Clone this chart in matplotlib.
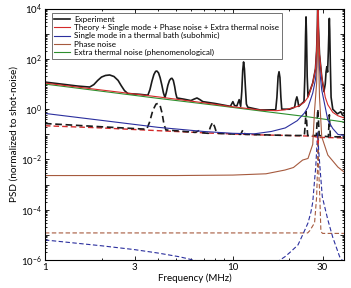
import matplotlib
matplotlib.use("Agg")
import matplotlib.pyplot as plt
from matplotlib.ticker import FixedLocator, NullFormatter, LogLocator

plt.rcParams['font.family'] = ['Lato', 'DejaVu Sans']
plt.rcParams['mathtext.default'] = 'regular'

# ---------------- data ----------------
green_f = [1, 2, 4, 8, 15, 25, 39]
green_v = [10, 5.2, 2.7, 1.45, 0.8, 0.5, 0.31]

red_f = [1, 2, 4, 7, 10, 14, 17, 19, 22.2, 24, 25.1, 26.6, 27.5, 27.9, 28.15, 28.3,
         28.5, 28.9, 29.7, 31, 32, 34, 36.2, 39]
red_v = [11, 5.8, 3.1, 1.8, 1.25, 0.93, 0.87, 0.95, 1.3, 1.9, 3.0, 11, 40, 220, 2000, 3e4,
         2000, 150, 19, 3, 1.5, 0.75, 0.55, 0.45]

blue_f = [1, 2, 4, 7, 10, 13, 16, 19, 22, 24, 25.1, 26.6, 27.5, 27.9, 28.15, 28.3,
          28.5, 28.9, 29.7, 31, 32, 34, 36.2, 39]
blue_v = [0.68, 0.36, 0.19, 0.13, 0.11, 0.105, 0.13, 0.18, 0.35, 0.7, 1.2, 4.4, 15, 48, 400, 3e4,
          400, 40, 5.8, 1.2, 0.37, 0.17, 0.1, 0.09]

brown_f = [1, 5, 10, 15, 18.9, 21, 23.5, 25.1, 26.6, 27.2, 27.9, 28.15, 28.3, 28.5, 28.9,
           29.7, 32, 36.2, 39]
brown_v = [0.0023, 0.0023, 0.0024, 0.0027, 0.0038, 0.0048, 0.0095, 0.011, 0.04, 0.9, 11, 300, 3e4,
           300, 3, 0.08, 0.015, 0.005, 0.0032]

exp_f = [1, 1.5, 1.73, 1.82, 1.91, 2.0, 2.1, 2.21, 2.33, 2.45, 2.55, 2.65, 2.76,
         3.2, 3.53, 3.62, 3.71, 3.8, 3.88, 3.94, 4.02, 4.1, 4.19, 4.27, 4.35,
         4.42, 4.51, 4.6, 4.68, 4.74, 4.82, 4.9, 4.97, 5.04,
         5.5, 5.98, 6.2, 6.44, 6.68, 6.92, 8, 9.7, 10.0, 10.2, 10.5, 10.8,
         11.0, 11.15, 11.28, 11.4, 11.52, 11.65, 11.8, 12.0,
         14, 16.9, 17.15, 17.4, 17.6, 17.8, 18.0, 18.2,
         20, 21.3, 21.6, 21.9, 22.15, 22.4,
         23.9, 24.15, 24.35, 24.5, 24.65, 24.85, 25.1,
         26.6, 27.5, 27.9, 28.15, 28.3, 28.5, 28.9, 29.7,
         30.5, 31.0, 31.3, 31.6, 31.9, 32.2, 32.45, 32.6, 32.75, 33.0, 33.3,
         34, 36, 37.5, 38.2, 39]
exp_v = [12, 8.3, 7.6, 9.5, 14, 19, 22, 23, 20, 14, 8.5, 5.5, 4.2,
         3.9, 3.6, 6, 13, 24, 32, 33, 28, 18, 9, 4.5, 2.9,
         4.5, 9, 14, 16.5, 17, 14, 8, 4.2, 2.8,
         2.5, 2.2, 2.5, 2.8, 2.4, 2.0, 1.7, 1.3, 2.0, 1.4, 1.35, 2.4,
         1.3, 5, 35, 76, 40, 8, 1.6, 1.2,
         0.93, 0.95, 3, 20, 31, 18, 3, 1.0,
         1.0, 1.2, 2.2, 3.1, 2.2, 1.3,
         2.0, 20, 800, 4700, 800, 20, 3.2,
         11, 40, 220, 2000, 3e4, 2000, 150, 19,
         5, 10, 30, 49, 30, 200, 1500, 4100, 1500, 60, 3,
         1.0, 0.65, 0.8, 0.6, 0.55]

red_d_f = [1, 2, 4, 8, 14, 20, 26, 27.8, 28.3, 28.8, 31, 39]
red_d_v = [0.22, 0.18, 0.14, 0.11, 0.095, 0.09, 0.085, 0.08, 0.045, 0.075, 0.075, 0.072]

exp_d_f = [1, 2, 3.48, 3.6, 3.75, 3.9, 4.0, 4.1, 4.2, 4.3, 4.4, 6.3, 6.6, 6.9,
           7.4, 7.6, 7.8, 8.0, 8.2, 11.0, 11.3, 11.6,
           20, 24.0, 24.3, 24.5, 24.7, 25.0, 27.8, 28.1, 28.3, 28.5, 28.8,
           32.2, 32.45, 32.6, 32.75, 33.0, 39]
exp_d_v = [0.27, 0.2, 0.16, 0.3, 0.9, 1.6, 1.7, 1.4, 0.7, 0.25, 0.15, 0.12, 0.14, 0.115,
           0.11, 0.2, 0.3, 0.2, 0.11, 0.1, 0.15, 0.1,
           0.09, 0.09, 0.3, 0.8, 0.3, 0.09, 0.09, 0.4, 1.0, 0.4, 0.09,
           0.08, 0.25, 0.6, 0.25, 0.08, 0.08]

blue_d_f = [1, 2, 3, 4, 5.2, 7, 10, 14, 17, 18.9, 20.1, 22.2, 23.5, 25.1, 26.0, 26.6, 27.2,
            27.6, 27.9, 28.3, 28.6, 29.0, 29.9, 32, 34, 37, 39]
blue_d_v = [6.3e-6, 3.7e-6, 2.6e-6, 1.9e-6, 1.35e-6, 8e-7, 5e-7, 5e-7, 8e-7, 1.35e-6, 2.0e-6, 4e-6,
            1e-5, 3e-5, 8e-5, 2e-4, 1.5e-3, 5e-3, 2.3e-2, 0.13, 2.3e-2, 6e-3, 3.3e-4, 4e-5, 8e-6,
            1.35e-6, 8e-7]

brown_d_f = [1, 10, 20, 25, 25.7, 26.6, 27.2, 27.9, 28.15, 28.4, 28.65, 29.0, 29.4, 30, 39]
brown_d_v = [1.2e-5, 1.2e-5, 1.2e-5, 1.2e-5, 1.5e-5, 2.3e-5, 3e-5, 3.3e-4, 2.8e-3, 0.1, 3e-3,
             3.3e-4, 1.35e-5, 1.15e-5, 1.15e-5]

legend_labels = ["Experiment",
                 "Theory + Single mode + Phase noise + Extra thermal noise",
                 "Single mode in a thermal bath (subohmic)",
                 "Phase noise",
                 "Extra thermal noise (phenomenological)"]

x_ticks = [1, 3, 10, 30]
x_ticklabels = ["1", "3", "10", "30"]
y_ticks = [1e-6, 1e-5, 1e-4, 1e-3, 1e-2, 1e-1, 1, 1e1, 1e2, 1e3, 1e4]
y_ticklabels = [r"$10^{-6}$", "", r"$10^{-4}$", "", r"$10^{-2}$", "", r"$10^{0}$", "",
                r"$10^{2}$", "", r"$10^{4}$"]

# ---------------- colours ----------------
c_black = "#1a1a1a"
c_red = "#d42a2a"
c_blue = "#2b2f9e"
c_brown = "#a65a3e"
c_green = "#2d8f2d"

fig = plt.figure(figsize=(3.51, 2.88), dpi=100)
ax = fig.add_axes([0.128, 0.097, 0.852, 0.873])

lw = 0.8
dash = (0, (4, 2.2))
# dashed set (underneath)
ax.plot(brown_d_f, brown_d_v, color=c_brown, lw=lw, ls=dash)
ax.plot(blue_d_f, blue_d_v, color=c_blue, lw=lw, ls=dash)
ax.plot(red_d_f, red_d_v, color=c_red, lw=1.0, ls=dash)
ax.plot(exp_d_f, exp_d_v, color=c_black, lw=1.2, ls=dash)

# solid set
l_exp, = ax.plot(exp_f, exp_v, color=c_black, lw=1.2)
l_green, = ax.plot(green_f, green_v, color=c_green, lw=lw)
l_blue, = ax.plot(blue_f, blue_v, color=c_blue, lw=lw)
l_brown, = ax.plot(brown_f, brown_v, color=c_brown, lw=lw)
l_red, = ax.plot(red_f, red_v, color=c_red, lw=lw)

ax.set_xscale("log")
ax.set_yscale("log")
ax.set_xlim(1, 39)
ax.set_ylim(1e-6, 1e4)

ax.xaxis.set_major_locator(FixedLocator(x_ticks))
ax.set_xticklabels(x_ticklabels)
ax.xaxis.set_minor_locator(FixedLocator([2, 4, 5, 6, 7, 8, 9, 20]))
ax.xaxis.set_minor_formatter(NullFormatter())

ax.set_yticks(y_ticks)
ax.set_yticklabels(y_ticklabels)
ax.yaxis.set_minor_locator(LogLocator(base=10, subs=range(2, 10), numticks=40))
ax.yaxis.set_minor_formatter(NullFormatter())

ax.tick_params(which="both", direction="in", top=True, right=True, labelsize=7, width=0.6)
ax.tick_params(which="major", length=3, pad=2)
ax.tick_params(which="minor", length=1.6)
for s in ax.spines.values():
    s.set_linewidth(0.8)

ax.set_xlabel("Frequency (MHz)", fontsize=7, labelpad=1)
ax.set_ylabel("PSD (normalized to shot-noise)", fontsize=7.2, labelpad=2)

leg = ax.legend([l_exp, l_red, l_blue, l_brown, l_green], legend_labels,
                loc="upper left", bbox_to_anchor=(0.022, 0.983), fontsize=5.8,
                frameon=True, fancybox=False, edgecolor="#333333",
                handlelength=1.9, handletextpad=0.6, labelspacing=0.16,
                borderpad=0.35, borderaxespad=0.0)
leg.get_frame().set_linewidth(0.6)

fig.savefig("out.png", dpi=100)
